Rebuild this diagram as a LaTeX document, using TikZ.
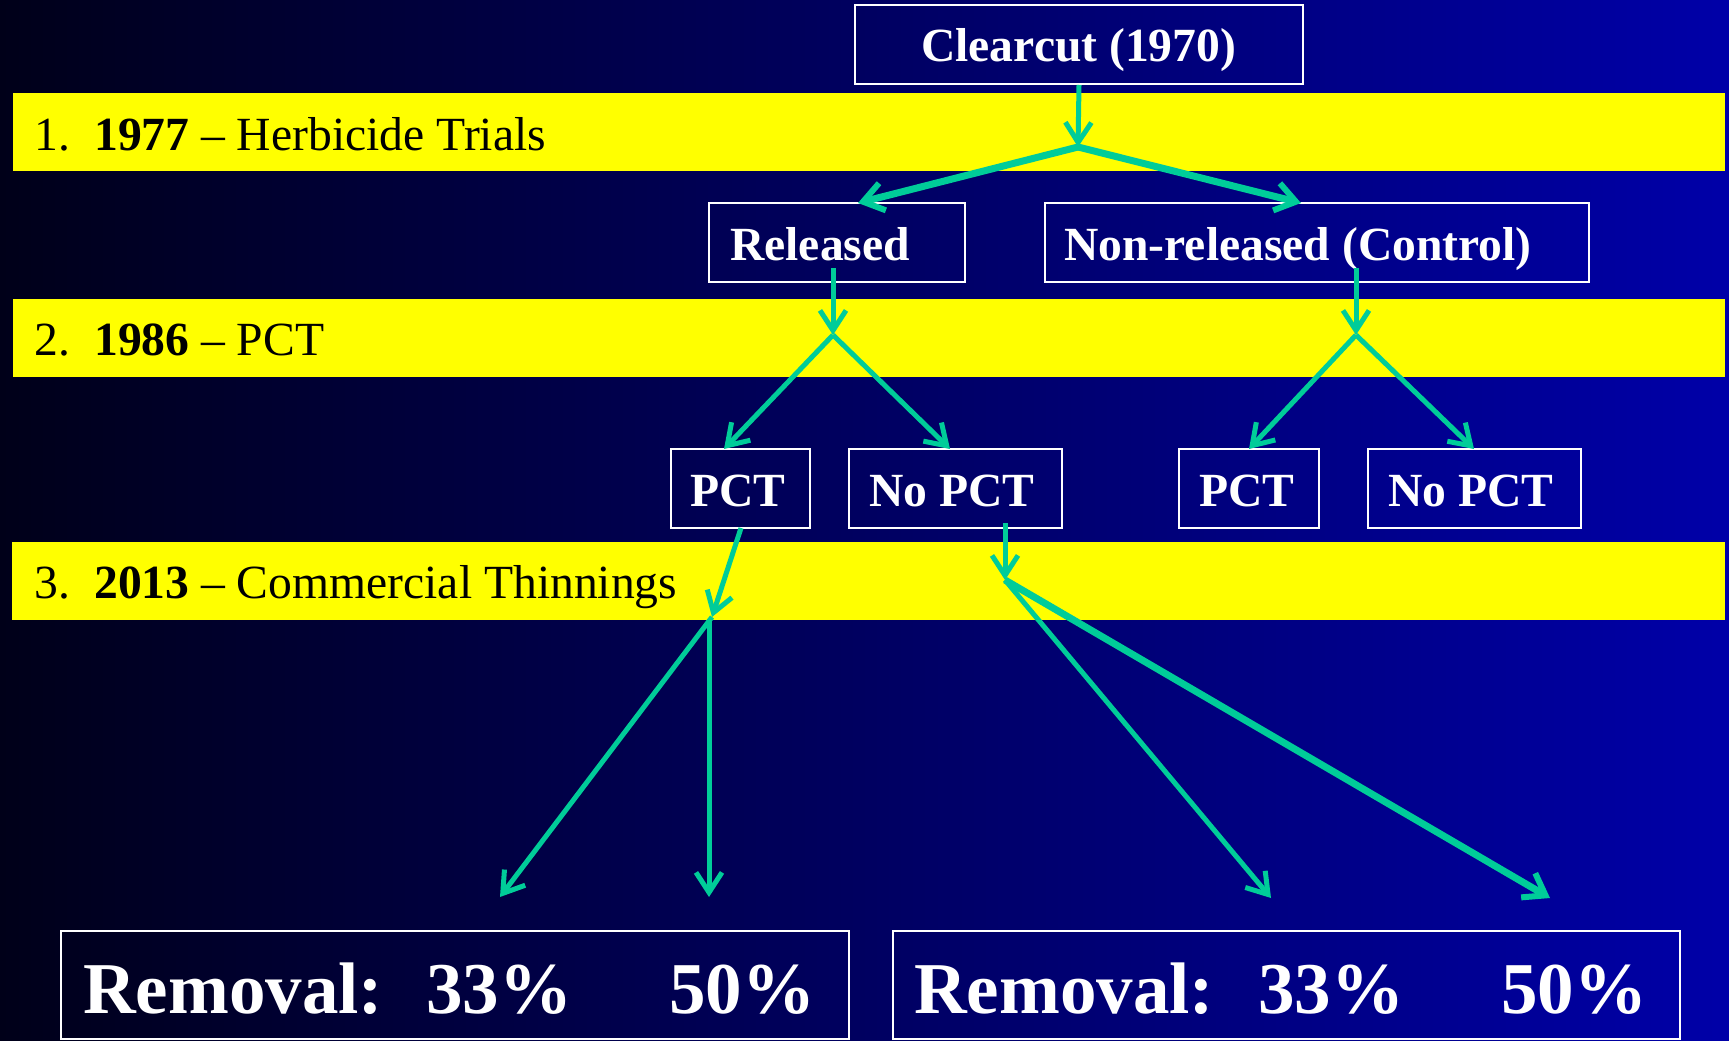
\documentclass[tikz,border=0pt]{standalone}
\usepackage{fontspec}
\setmainfont{Liberation Serif}
\usetikzlibrary{arrows.meta}
\definecolor{teal}{RGB}{0,204,153}
\definecolor{bandyellow}{RGB}{255,255,0}
\definecolor{bgleft}{RGB}{0,0,25}
\definecolor{bgmid}{RGB}{0,0,118}
\definecolor{bgright}{RGB}{0,0,168}
\tikzset{
  box/.style={draw=white, line width=2pt, inner sep=0pt, rectangle},
  boxtext/.style={anchor=base west, inner sep=0pt, text=white, font=\fontsize{47.6}{50}\selectfont\bfseries},
  bandtext/.style={anchor=base west, inner sep=0pt, text=black, font=\fontsize{47.6}{50}\selectfont},
  bigtext/.style={anchor=base west, inner sep=0pt, text=white, font=\fontsize{73}{76}\selectfont\bfseries},
  band/.style={fill=bandyellow, draw=none},
  conn/.style={draw=teal, line width=5pt, -{Straight Barb[length=20pt,width=26pt,line width=5pt]}},
  thickconn/.style={draw=teal, line width=7pt, -{Straight Barb[length=20pt,width=28pt,line width=6pt]}},
}
\begin{document}
\begin{tikzpicture}[x=1pt,y=-1pt]
\useasboundingbox (0,0) rectangle (1729,1041);
\shade[left color=bgleft, middle color=bgmid, right color=bgright] (0,0) rectangle (1729,1041);

% yellow bands
\fill[band] (13,93) rectangle (1725,171);
\fill[band] (13,299) rectangle (1725,377);
\fill[band] (12,542) rectangle (1725,620);

\node[bandtext] (b1n) at (34,150) {1.};
\node[bandtext] (b1t) at (94,150) {\textbf{1977} – Herbicide Trials};
\node[bandtext] (b2n) at (34,355) {2.};
\node[bandtext] (b2t) at (94,355) {\textbf{1986} – PCT};
\node[bandtext] (b3n) at (34,598) {3.};
\node[bandtext] (b3t) at (94,598) {\textbf{2013} – Commercial Thinnings};

% boxes
\node[box, minimum width=448, minimum height=78.5] (cc) at (1079,44.75) {};
\node[boxtext] (ccT) at (921,62) {Clearcut (1970)};
\node[box, minimum width=256, minimum height=79] (rel) at (837,242.5) {};
\node[boxtext] (relT) at (730,260) {Released};
\node[box, minimum width=544, minimum height=79] (non) at (1317,242.5) {};
\node[boxtext] (nonT) at (1064,260) {Non-released (Control)};
\node[box, minimum width=139, minimum height=79] (pct1) at (740.5,488.5) {};
\node[boxtext] (pct1T) at (690,506) {PCT};
\node[box, minimum width=213, minimum height=79] (npct1) at (955.5,488.5) {};
\node[boxtext] (npct1T) at (869,506) {No PCT};
\node[box, minimum width=140, minimum height=79] (pct2) at (1249,488.5) {};
\node[boxtext] (pct2T) at (1199,506) {PCT};
\node[box, minimum width=213, minimum height=79] (npct2) at (1474.5,488.5) {};
\node[boxtext] (npct2T) at (1388,506) {No PCT};

\node[box, minimum width=788, minimum height=108] (bl) at (455,985) {};
\node[bigtext] (bl1) at (83,1013) {Removal:};
\node[bigtext] (bl2) at (426,1013) {33\%};
\node[bigtext] (bl3) at (669,1013) {50\%};
\node[box, minimum width=787, minimum height=108] (br) at (1286.5,985) {};
\node[bigtext] (br1) at (914,1013) {Removal:};
\node[bigtext] (br2) at (1258,1013) {33\%};
\node[bigtext] (br3) at (1501,1013) {50\%};

% junction and end coordinates
\coordinate (j1) at (1078,147);
\coordinate (relIn) at (858,203);
\coordinate (nonIn) at (1301,203);
\coordinate (relOut) at (833,268);
\coordinate (j2) at (833,335);
\coordinate (pct1In) at (724,449);
\coordinate (npct1In) at (950,449);
\coordinate (nonOut) at (1356,268);
\coordinate (j3) at (1356,335);
\coordinate (pct2In) at (1249,449);
\coordinate (npct2In) at (1474,449);
\coordinate (pct1Out) at (741,528);
\coordinate (j4) at (712,617);
\coordinate (j4v) at (709,619);
\coordinate (e1) at (500,897);
\coordinate (e2) at (709,897);
\coordinate (npct1Out) at (1005,523);
\coordinate (j5) at (1005,580);
\coordinate (e3) at (1271,898);
\coordinate (e4) at (1550,898);

% connectors
\draw[conn] (cc.south) -- (j1);
\draw[thickconn] (j1) -- (relIn);
\draw[thickconn] (j1) -- (nonIn);
\draw[conn] (relOut) -- (j2);
\draw[conn] (j2) -- (pct1In);
\draw[conn] (j2) -- (npct1In);
\draw[conn] (nonOut) -- (j3);
\draw[conn] (j3) -- (pct2In);
\draw[conn] (j3) -- (npct2In);
\draw[conn] (pct1Out) -- (j4);
\draw[conn] (j4) -- (e1);
\draw[conn] (j4v) -- (e2);
\draw[conn] (npct1Out) -- (j5);
\draw[conn] (j5) -- (e3);
\draw[thickconn] (j5) -- (e4);
\end{tikzpicture}
\end{document}
